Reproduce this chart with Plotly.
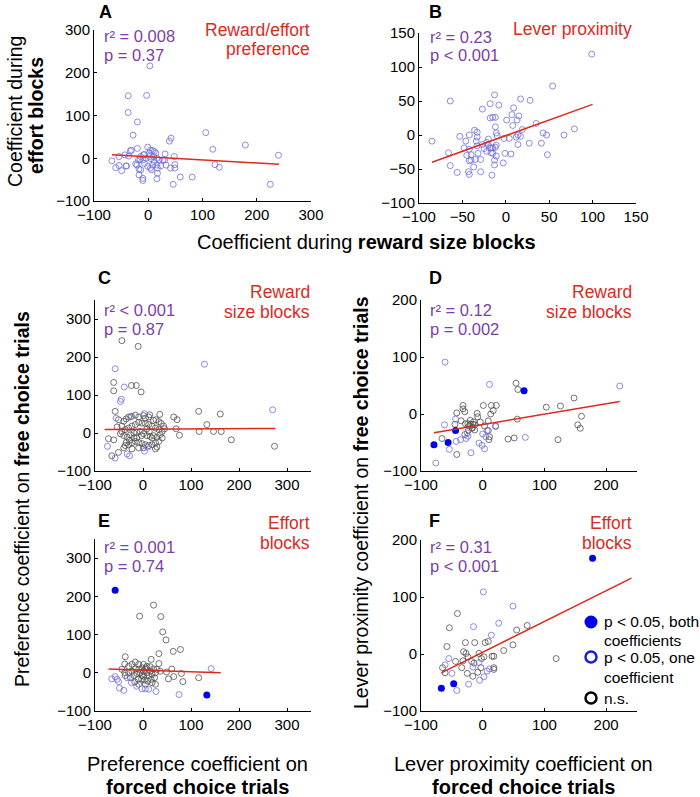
import plotly.graph_objects as go

# ---------------- data ----------------
# Panel A: reward/effort preference (x: reward size blocks, y: effort blocks)
A_blue = [(3,216),(-37,146),(-3,147),(-37,107),(-20,85),(-28,54),(42,47),(39,40),(106,60),(119,21),
          (179,31),(240,7),(225,-61),(123,-15),(131,-21),(81,-44),(59,-44),(46,-61),(48,4),(49,-15),
          (49,-23),(41,-23),(31,10),(30,-4),(-67,-6),(-60,-22),(-54,-17),(-49,-29),(-54,4),(-43,8),
          (-40,-18),(-41,-18),(-33,17),(-31,19),(-36,5),(-20,23),(-23,-13),(-21,-16),(-18,-4),(-15,-2),
          (-17,-25),(-17,-39),(-10,-47),(-10,-52),(-14,4),(-7,9),(-1,26),(4,19),(8,18),(11,16),
          (14,12),(10,4),(2,4),(5,-1),(-7,-12),(-1,-19),(4,-23),(6,-27),(11,-8),(16,-16),
          (17,-23),(17,-35),(16,-48),(20,-4),(23,-18),(27,-4),(33,-16),(-9,8),(-4,0),(-10,-4),
          (8,-16),(-14,-27),(2,12),(16,0)]
A_fit_x = [-67, 241]
A_fit_y = [8, -14]

# Panel B: lever proximity
B_blue = [(99,119),(54,72),(-64,50),(-85,-9),(-13,59),(-18,46),(-8,44),(-27,38),(17,53),(28,51),
          (9,40),(7,30),(15,28),(13,22),(1,22),(8,14),(-18,25),(-15,26),(-12,26),(-12,12),
          (-11,3),(-10,-1),(19,8),(35,17),(43,3),(47,0),(67,0),(79,9),(41,-12),(27,-12),
          (14,-14),(48,-29),(6,-28),(-1,-27),(-3,-41),(12,-3),(17,-2),(14,0),(4,-5),(-2,-5),
          (-16,-59),(-13,-44),(-13,-37),(-29,-54),(-42,-58),(-43,-54),(-56,-55),(-64,-45),(-66,-26),(-42,-38),
          (-40,-37),(-37,-47),(-35,-36),(-29,-36),(-32,-27),(-40,-29),(-42,-21),(-48,-19),(-46,-9),(-53,-2),
          (-42,0),(-36,7),(-33,4),(-33,-3),(-34,-9),(-33,-16),(-27,-14),(-22,-11),(-20,-15),(-18,-19),
          (-17,-19),(-15,-19),(-12,-18),(-11,-15),(-17,-26),(-15,-27),(-11,-31),(-22,-24),(-20,-6),(-25,-20),
          (-45,-30)]
B_fit_x = [-85, 100]
B_fit_y = [-40, 45]

# Panel C: preference, reward size blocks
C_blue = [(-58,169),(-39,121),(-45,89),(-47,83),(128,181),(270,61),(-74,-35),(-58,-66),(-33,-55),(-28,-60),
          (3,-48),(10,-37),(-56,39),(3,51),(-26,42)]
C_black = [(-44,243),(-10,228),(-61,133),(-61,111),(-24,125),(-14,125),(-4,108),(-58,57),(-51,35),(-54,16),
           (64,42),(71,35),(116,57),(161,50),(133,22),(117,4),(147,4),(163,4),(184,-18),(274,-35),
           (69,11),(76,-6),(14,48),(35,49),(-72,-15),(-61,-18),(-65,-60),(-51,-51),
           (-40,31),(-35,37),(-30,42),(-24,44),(-16,47),(-9,42),(1,46),(5,39),(12,42),(22,33),
           (27,35),(33,30),(38,25),(43,18),(45,11),(40,4),(33,9),(26,13),(19,18),(12,22),
           (5,25),(-2,26),(-9,28),(-16,22),(-23,18),(-30,13),(-37,9),(-44,4),(-47,-2),(-40,-7),
           (-33,-11),(-26,-5),(-19,0),(-13,2),(-6,4),(1,-2),(8,-7),(15,-9),(22,-7),(29,-11),
           (36,-4),(40,-13),(33,-22),(26,-26),(19,-31),(12,-33),(5,-31),(-2,-28),(-9,-25),(-16,-22),
           (-23,-26),(-30,-31),(-37,-33),(-40,-39),(-23,-42),(-9,-39),(1,-39),(19,-13),(13,4),(8,11),
           (-3,-7),(-13,-13),(-19,-13),(-28,-19),(-35,-25),(26,-42),(29,-37),(-44,18)]
C_fit_x = [-80, 276]
C_fit_y = [9, 12]

# Panel D: lever proximity, reward size blocks
D_both = [(-79,-54),(-56,-50),(-44,-29),(67,41)]
D_blue = [(-61,91),(11,52),(222,49),(69,-41),(-76,-86),(-62,-19),(-44,-9),(-54,-62),(-43,-48),(-36,-45),
          (-27,-43),(-24,-39),(-25,-33),(-6,-51),(-1,-55),(3,-61),(-19,-68),(7,-29),(5,-40),(21,-22),
          (0,-35)]
D_black = [(54,54),(57,43),(-66,-43),(-42,-71),(-32,15),(-32,9),(-29,4),(-42,2),(-45,-18),(-35,-12),
           (-28,-17),(-24,-17),(-20,-18),(-16,-18),(-13,-19),(-22,-21),(-17,-25),(-23,-28),(-13,-28),(-9,1),
           (-8,-5),(1,15),(14,15),(22,15),(17,6),(13,0),(9,-12),(21,-21),(9,-29),(11,-40),
           (10,-45),(41,-44),(51,-42),(103,12),(126,14),(148,28),(160,-4),(154,-19),(158,-25),(122,-45),
           (56,-9),(-4,-14),(-20,-11),(-15,-14),(-17,-24),(-29,-36),(3,-21)]
D_fit_x = [-79, 222]
D_fit_y = [-33, 22]

# Panel E: preference, effort blocks
E_both = [(-58,216),(133,-58)]
E_blue = [(142,11),(75,-57),(27,-49),(-65,-16),(-58,-10),(-54,-17),(-51,-23),(-49,-40),(-40,-46),(-33,-13),
          (-13,-35),(-2,-42),(5,-42),(12,-43),(-24,-26)]
E_black = [(22,177),(-7,148),(37,147),(41,107),(48,86),(78,61),(63,56),(33,50),(17,35),(33,24),
           (-37,42),(-38,23),(-16,28),(60,10),(80,-2),(64,-10),(53,-16),(83,-23),(116,-13),(49,2),
           (-30,17),(-23,22),(-9,22),(1,22),(8,17),(15,16),(22,10),(29,9),(36,4),(26,0),
           (19,-4),(12,-7),(5,9),(-2,13),(-9,9),(-16,10),(-23,4),(-30,0),(-37,-7),(-26,-13),
           (-19,-7),(-13,-2),(-6,0),(1,4),(8,0),(15,4),(24,-13),(17,-17),(10,-22),(3,-19),
           (-3,-16),(-10,-17),(-17,-24),(-9,-30),(5,-30),(19,-26),(26,-30),(1,-9),(6,13),(-2,-7),
           (-44,9),(-38,0)]
E_fit_x = [-72, 162]
E_fit_y = [10, 0]

# Panel F: lever proximity, effort blocks
F_both = [(178,168),(-67,-60),(-47,-52)]
F_blue = [(1,109),(49,84),(-15,48),(26,54),(14,33),(-55,-8),(-61,-19),(-50,-34),(-42,-64),(-23,-53),
          (-5,-46),(2,-40),(7,-30),(11,-26),(-16,-23),(-6,-15)]
F_black = [(-41,71),(-54,46),(72,50),(55,42),(49,16),(34,6),(119,-8),(-58,13),(-28,20),(-13,20),
           (4,20),(9,22),(-31,4),(-27,1),(-24,-5),(-6,1),(-2,-8),(2,-5),(15,-4),(18,-4),
           (18,-24),(18,-27),(-44,-13),(-34,-24),(-25,-34),(-16,-39),(-8,-32),(-18,-13),(-14,-16),(-65,-24),
           (-61,-33),(-32,-12),(-3,-24)]
F_fit_x = [-67, 241]
F_fit_y = [-33, 133]

stats = {
    "A": ("r² = 0.008", "p = 0.37"),
    "B": ("r² = 0.23", "p < 0.001"),
    "C": ("r² < 0.001", "p = 0.87"),
    "D": ("r² = 0.12", "p = 0.002"),
    "E": ("r² = 0.001", "p = 0.74"),
    "F": ("r² = 0.31", "p < 0.001"),
}
labels = {
    "A": ("Reward/effort", "preference"),
    "B": ("Lever proximity",),
    "C": ("Reward", "size blocks"),
    "D": ("Reward", "size blocks"),
    "E": ("Effort", "blocks"),
    "F": ("Effort", "blocks"),
}

# ---------------- styling ----------------
W, H = 700, 797
FONT = "Liberation Sans, Arial, Helvetica, sans-serif"
BLUE_OPEN = "#6f6fe0"
GREY_OPEN = "#505050"
BLUE_FILL = "#0000ee"
RED = "#dd2a1e"
PURPLE = "#7b3fa6"

def px(x):
    return x / W

def py(y):
    return 1 - y / H

fig = go.Figure()

panels = {
    "A": (1, (94, 311), (30, 201), [-100, 300], [-100, 0, 100, 200, 300], [-100, 300], [-100, 0, 100, 200, 300]),
    "B": (2, (419, 636), (33, 203), [-100, 150], [-100, -50, 0, 50, 100, 150], [-100, 150], [-100, -50, 0, 50, 100, 150]),
    "C": (3, (95, 311), (300, 471), [-100, 350], [-100, 0, 100, 200, 300], [-100, 350], [-100, 0, 100, 200, 300]),
    "D": (4, (421, 637), (300, 471), [-100, 250], [-100, 0, 100, 200], [-100, 200], [-100, 0, 100, 200]),
    "E": (5, (95, 311), (539, 711), [-100, 350], [-100, 0, 100, 200, 300], [-100, 350], [-100, 0, 100, 200, 300]),
    "F": (6, (421, 637), (540, 711), [-100, 250], [-100, 0, 100, 200], [-100, 200], [-100, 0, 100, 200]),
}

groups = {
    "A": [(A_blue, "blue")],
    "B": [(B_blue, "blue")],
    "C": [(C_black, "black"), (C_blue, "blue")],
    "D": [(D_black, "black"), (D_blue, "blue"), (D_both, "both")],
    "E": [(E_black, "black"), (E_blue, "blue"), (E_both, "both")],
    "F": [(F_black, "black"), (F_blue, "blue"), (F_both, "both")],
}
fits = {"A": (A_fit_x, A_fit_y), "B": (B_fit_x, B_fit_y), "C": (C_fit_x, C_fit_y),
        "D": (D_fit_x, D_fit_y), "E": (E_fit_x, E_fit_y), "F": (F_fit_x, F_fit_y)}

layout = {}
annotations = []

def ann(text, x, y, size=15, color="black", xanchor="left", bold=False, angle=0, yanchor="middle"):
    if bold:
        text = "<b>" + text + "</b>"
    annotations.append(dict(text=text, x=px(x), y=py(y), xref="paper", yref="paper",
                            showarrow=False, xanchor=xanchor, yanchor=yanchor, textangle=angle,
                            font=dict(size=size, color=color, family=FONT)))

for name, (i, xd, yd, xr, xt, yr, yt) in panels.items():
    sfx = "" if i == 1 else str(i)
    common = dict(showline=True, linecolor="black", linewidth=1, ticks="inside", ticklen=3,
                  tickcolor="black", showgrid=False, zeroline=False, automargin=False,
                  fixedrange=True, tickfont=dict(size=15, family=FONT, color="black"))
    layout["xaxis" + sfx] = dict(domain=[px(xd[0]), px(xd[1])], range=xr, tickvals=xt,
                                 anchor="y" + sfx, **common)
    layout["yaxis" + sfx] = dict(domain=[py(yd[1]), py(yd[0])], range=yr, tickvals=yt,
                                 anchor="x" + sfx, **common)
    for pts, kind in groups[name]:
        xs = [p[0] for p in pts]
        ys = [p[1] for p in pts]
        if kind == "both":
            marker = dict(symbol="circle", size=7, color=BLUE_FILL, line=dict(width=0))
        elif kind == "blue":
            marker = dict(symbol="circle-open", size=6, color=BLUE_OPEN, line=dict(width=0.8))
        else:
            marker = dict(symbol="circle-open", size=6, color=GREY_OPEN, line=dict(width=0.8))
        fig.add_trace(go.Scatter(x=xs, y=ys, mode="markers", marker=marker, showlegend=False,
                                 xaxis="x" + sfx, yaxis="y" + sfx, cliponaxis=False,
                                 hoverinfo="skip"))
    fx, fy = fits[name]
    fig.add_trace(go.Scatter(x=fx, y=fy, mode="lines", line=dict(color=RED, width=1.5),
                             showlegend=False, xaxis="x" + sfx, yaxis="y" + sfx, hoverinfo="skip"))

letter_pos = {"A": (97, 12), "B": (427, 12), "C": (96, 278), "D": (427, 278), "E": (96, 521), "F": (427, 521)}
stat_pos = {"A": (102, 36, 55), "B": (428, 37, 55), "C": (102, 310, 329), "D": (428, 310, 329),
            "E": (102, 547, 566), "F": (428, 547, 566)}
label_pos = {"A": (312, 30, 49), "B": (634, 29, 48), "C": (312, 292, 312), "D": (634, 292, 312),
             "E": (312, 523, 543), "F": (634, 523, 543)}
for name in panels:
    lx, ly = letter_pos[name]
    ann(name, lx, ly, size=18, bold=True)
    sx, sy1, sy2 = stat_pos[name]
    ann(stats[name][0], sx, sy1, size=16.5, color=PURPLE)
    ann(stats[name][1], sx, sy2, size=16.5, color=PURPLE)
    rx, ry1, ry2 = label_pos[name]
    lines = labels[name]
    ann(lines[0], rx, ry1, size=17.5, color=RED, xanchor="right")
    if len(lines) > 1:
        ann(lines[1], rx, ry2, size=17.5, color=RED, xanchor="right")

ann("Coefficient during <b>reward size blocks</b>", 366, 242, size=20, xanchor="center")
ann("Coefficient during", 15, 112, size=19.5, xanchor="center", angle=-90)
ann("effort blocks", 36, 116, size=19.5, xanchor="center", angle=-90, bold=True)
ann("Preference coefficient on <b>free choice trials</b>", 22, 499, size=19.5, xanchor="center", angle=-90)
ann("Lever proximity coefficient on <b>free choice trials</b>", 361, 503, size=19.5, xanchor="center", angle=-90)
ann("Preference coefficient on", 197, 764, size=20, xanchor="center")
ann("forced choice trials", 197, 787, size=20, xanchor="center", bold=True)
ann("Lever proximity coefficient on", 523, 764, size=20, xanchor="center")
ann("forced choice trials", 523, 787, size=20, xanchor="center", bold=True)

shapes = []
def circle(cx, cy, r, fill, line_color, lw):
    shapes.append(dict(type="circle", xref="paper", yref="paper",
                       x0=px(cx - r), x1=px(cx + r), y0=py(cy + r), y1=py(cy - r),
                       fillcolor=fill, line=dict(color=line_color, width=lw)))
circle(591, 622, 6.5, BLUE_FILL, BLUE_FILL, 0)
circle(591, 657, 5.5, "rgba(0,0,0,0)", "#1a1ae6", 2.5)
circle(591, 698, 5.5, "rgba(0,0,0,0)", "black", 2.5)
ann("p < 0.05, both", 602, 621, size=15.5)
ann("coefficients", 602, 640, size=15.5)
ann("p < 0.05, one", 602, 657, size=15.5)
ann("coefficient", 602, 677, size=15.5)
ann("n.s.", 602, 698, size=15.5)

fig.update_layout(template="none", width=W, height=H, margin=dict(l=0, r=0, t=0, b=0, pad=0),
                  plot_bgcolor="white", paper_bgcolor="white", hovermode=False,
                  annotations=annotations, shapes=shapes, showlegend=False, **layout)

fig.write_html("out.html", config={"displayModeBar": False, "staticPlot": True},
               post_script="document.body.style.margin='0';document.body.style.padding='0';"
                           "document.documentElement.style.overflow='hidden';")
